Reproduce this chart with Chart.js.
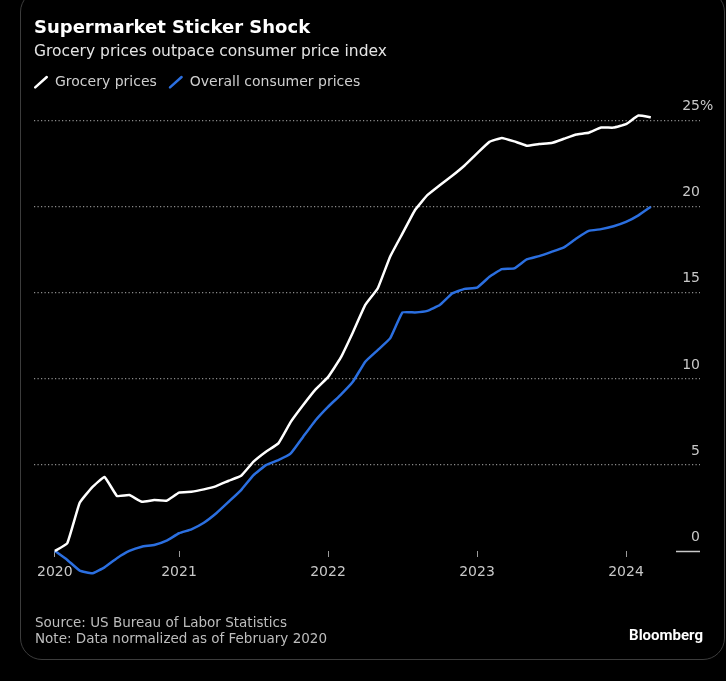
<!DOCTYPE html>
<html>
<head>
<meta charset="utf-8">
<script src="https://cdn.jsdelivr.net/npm/chart.js@4.4.1/dist/chart.umd.min.js"></script>
<style>
  html, body { margin: 0; padding: 0; background: #000; }
  body { width: 726px; height: 681px; position: relative; overflow: hidden; font-family: "DejaVu Sans", sans-serif; }
  #chart { position: absolute; left: 0; top: 0; }
  .card { position: absolute; left: 20px; top: -10px; width: 703px; height: 668px; border: 1px solid #3c3c3c; border-radius: 22px; pointer-events: none; }
  .note { position: absolute; left: 35px; top: 614px; color: #bdbdbd; font-size: 13.5px; line-height: 16px; }
  .brand { position: absolute; right: 23px; top: 626px; color: #fff; font: bold 15px Roboto, sans-serif; }
</style>
</head>
<body>
<canvas id="chart" width="726" height="681"></canvas>
<div class="card"></div>
<div class="note">Source: US Bureau of Labor Statistics<br>Note: Data normalized as of February 2020</div>
<div class="brand">Bloomberg</div>
<script>
// monthly readings, % change since Feb 2020
const months = [
  '2020-02', '2020-03', '2020-04', '2020-05', '2020-06', '2020-07', '2020-08', '2020-09', '2020-10', '2020-11', '2020-12',
  '2021-01', '2021-02', '2021-03', '2021-04', '2021-05', '2021-06', '2021-07', '2021-08', '2021-09', '2021-10', '2021-11', '2021-12',
  '2022-01', '2022-02', '2022-03', '2022-04', '2022-05', '2022-06', '2022-07', '2022-08', '2022-09', '2022-10', '2022-11', '2022-12',
  '2023-01', '2023-02', '2023-03', '2023-04', '2023-05', '2023-06', '2023-07', '2023-08', '2023-09', '2023-10', '2023-11', '2023-12',
  '2024-01', '2024-02'
];
const grocery = [
  0, 0.45, 2.8, 3.7, 4.3, 3.2, 3.25, 2.86, 2.96, 2.92,
  3.39, 3.44, 3.58, 3.77, 4.08, 4.37, 5.19, 5.77, 6.25, 7.5,
  8.48, 9.39, 10.1, 11.2, 12.7, 14.3, 15.25, 17.1, 18.45, 19.8,
  20.67, 21.25, 21.8, 22.4, 23.1, 23.77, 24.0, 23.8, 23.55, 23.65,
  23.7, 23.95, 24.2, 24.3, 24.6, 24.6, 24.8, 25.3, 25.2
];
const overall = [
  0, -0.52, -1.14, -1.3, -0.95, -0.42, 0.0, 0.25, 0.35, 0.6,
  1.03, 1.26, 1.64, 2.19, 2.86, 3.54, 4.41, 4.99, 5.28, 5.67,
  6.64, 7.6, 8.38, 9.06, 9.83, 11.0, 11.67, 12.35, 13.86, 13.86,
  13.95, 14.29, 14.96, 15.23, 15.3, 15.93, 16.38, 16.42, 16.94, 17.13,
  17.38, 17.64, 18.16, 18.6, 18.7, 18.87, 19.12, 19.5, 20.0
];
const yearLabels = ['2020', '2021', '2022', '2023', '2024'];
const yTicks = [0, 5, 10, 15, 20, 25];

// each reading sits at the end of its month, as a fractional year
const xs = months.map(m => {
  const [yr, mo] = m.split('-').map(Number);
  return yr + mo / 12;
});
const toPoints = vals => vals.map((v, i) => ({ x: xs[i], y: v }));

const font = 'DejaVu Sans';
const tickColor = '#c8c8c8';

const extras = {
  id: 'extras',
  afterLayout(chart) {
    // pull the legend back so the first marker lines up with the title
    chart.legend.left -= chart.options.plugins.legend.labels.padding;
  },
  afterDraw(chart) {
    const { ctx, chartArea, scales: { y } } = chart;
    const y0 = Math.round(y.getPixelForValue(0)) + 0.5;
    ctx.save();
    ctx.strokeStyle = tickColor;
    ctx.lineWidth = 1.5;
    ctx.beginPath();
    ctx.moveTo(chartArea.right - 24, y0);
    ctx.lineTo(chartArea.right, y0);
    ctx.stroke();
    ctx.fillStyle = tickColor;
    ctx.font = '14px "' + font + '"';
    ctx.textAlign = 'left';
    ctx.textBaseline = 'middle';
    ctx.fillText('%', chartArea.right, y.getPixelForValue(yTicks[yTicks.length - 1]) - 14);
    ctx.restore();
  }
};

new Chart(document.getElementById('chart'), {
  type: 'line',
  data: {
    datasets: [
      {
        label: 'Grocery prices',
        data: toPoints(grocery),
        borderColor: '#ffffff',
        borderWidth: 2.5,
        pointRadius: 0,
        tension: 0.1
      },
      {
        label: 'Overall consumer prices',
        data: toPoints(overall),
        borderColor: '#2b6fe0',
        borderWidth: 2.5,
        pointRadius: 0,
        tension: 0.1
      }
    ]
  },
  options: {
    responsive: false,
    animation: false,
    layout: { padding: { left: 34, right: 26, top: 0, bottom: 95.6 } },
    plugins: {
      title: {
        display: true,
        text: 'Supermarket Sticker Shock',
        align: 'start',
        color: '#ffffff',
        font: { family: font, size: 18, weight: 'bold', lineHeight: 1.2 },
        padding: { top: 18, bottom: 0 }
      },
      subtitle: {
        display: true,
        text: 'Grocery prices outpace consumer price index',
        align: 'start',
        color: '#e4e4e4',
        font: { family: font, size: 15.5, lineHeight: 1.2 },
        padding: { top: 3, bottom: 2 }
      },
      legend: {
        align: 'start',
        labels: {
          usePointStyle: true,
          boxWidth: 16,
          boxHeight: 11,
          padding: 12,
          color: '#cfcfcf',
          font: { family: font, size: 14 },
          generateLabels: chart => chart.data.datasets.map((ds, i) => ({
            text: ds.label,
            strokeStyle: ds.borderColor,
            fillStyle: ds.borderColor,
            lineWidth: 2.5,
            lineCap: 'round',
            pointStyle: 'line',
            rotation: -42,
            fontColor: '#cfcfcf',
            hidden: false,
            datasetIndex: i
          }))
        }
      },
      tooltip: { enabled: false }
    },
    scales: {
      x: {
        type: 'linear',
        position: { y: 0 },
        min: xs[0] - 0.14,
        max: xs[xs.length - 1] + 0.33,
        afterBuildTicks: axis => {
          axis.ticks = yearLabels.map((l, i) => ({ value: i === 0 ? xs[0] : Number(l) }));
        },
        grid: { drawOnChartArea: false, tickLength: 6, color: '#9a9a9a' },
        border: { display: false },
        ticks: {
          callback: (v, i) => yearLabels[i],
          color: tickColor,
          font: { family: font, size: 14 },
          padding: 7,
          maxRotation: 0,
          autoSkip: false
        }
      },
      y: {
        position: 'right',
        min: -2,
        max: 26.25,
        afterBuildTicks: axis => {
          axis.ticks = yTicks.map(v => ({ value: v }));
        },
        grid: {
          drawTicks: false,
          tickLength: 0,
          lineWidth: 1.2,
          color: c => (c.tick && c.tick.value === 0 ? 'rgba(0,0,0,0)' : '#8c8c8c')
        },
        border: { display: false, dash: [1.2, 2.3] },
        ticks: {
          mirror: true,
          padding: 0,
          labelOffset: -14,
          color: tickColor,
          font: { family: font, size: 14 },
          callback: v => String(v)
        }
      }
    }
  },
  plugins: [extras]
});
</script>
</body>
</html>
